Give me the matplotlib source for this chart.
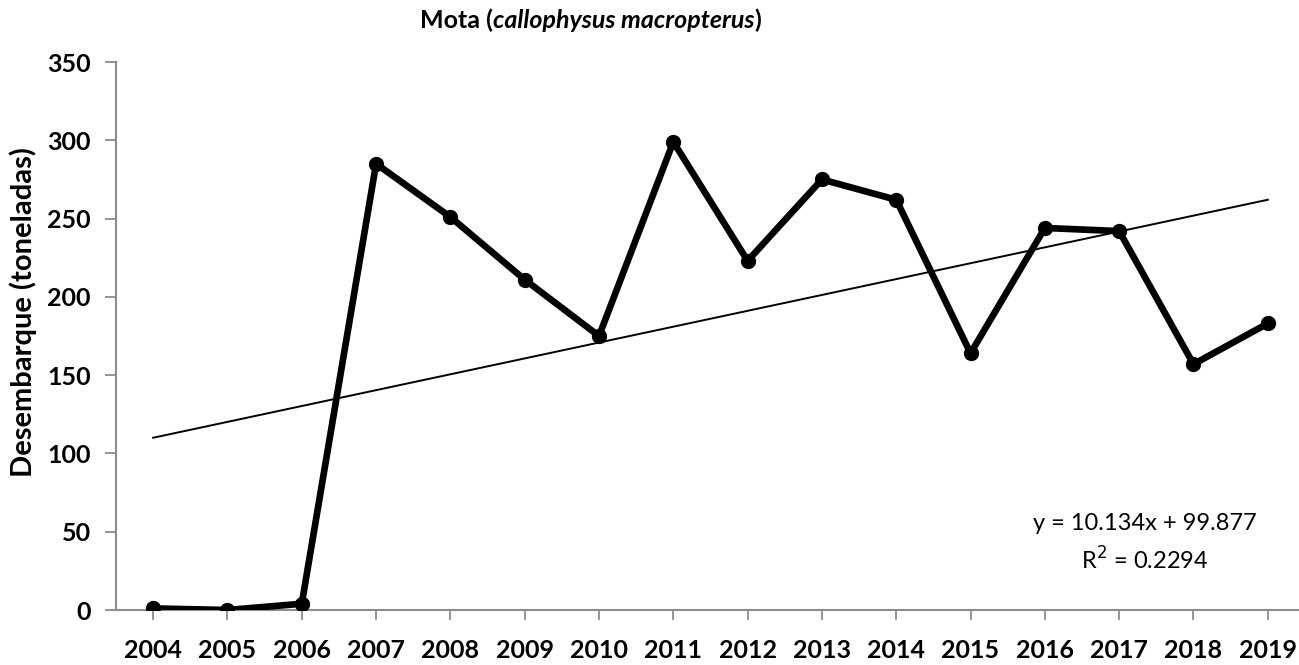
import matplotlib
matplotlib.use("Agg")
import matplotlib.pyplot as plt
import numpy as np

years = ["2004", "2005", "2006", "2007", "2008", "2009", "2010", "2011",
         "2012", "2013", "2014", "2015", "2016", "2017", "2018", "2019"]
desembarque = [1, 0, 4, 285, 251, 211, 175, 299, 223, 275, 262, 164, 244, 242, 157, 183]
trend_slope = 10.134
trend_intercept = 99.877
r2_text = "0.2294"

plt.rcParams['font.family'] = ['Lato', 'DejaVu Sans']

fig = plt.figure(figsize=(12.99, 6.65), dpi=100)
ax = fig.add_axes([116/1299, 1-610/665, 1-116/1299, (610-62)/665])

x = np.arange(len(years))
ax.plot(x, desembarque, color='black', lw=4.8, marker='o', markersize=10,
        solid_joinstyle='round', zorder=3)
xt = x + 1
ax.plot(x, trend_slope*xt + trend_intercept, color='black', lw=1.4, zorder=2)

ax.set_xlim(-0.5, 15.42)
ax.set_ylim(0, 350)
ax.set_yticks(range(0, 351, 50))
ax.set_xticks(x)
ax.set_xticklabels(years)
for s in ['top', 'right']:
    ax.spines[s].set_visible(False)
for s in ['left', 'bottom']:
    ax.spines[s].set_color('#8c8c8c')
    ax.spines[s].set_linewidth(1.5)
ax.tick_params(axis='y', length=8, width=1.3, color='#8c8c8c', labelsize=18, pad=10)
ax.tick_params(axis='x', length=7, width=1.3, color='#8c8c8c', labelsize=18, pad=14)
for lab in ax.get_xticklabels() + ax.get_yticklabels():
    lab.set_fontweight('bold')

fig.text(23/1299, 1-312/665, "Desembarque (toneladas)", rotation=90, fontsize=21,
         fontweight='bold', ha='center', va='center')

t1 = fig.text(420/1299, 1-20/665, "Mota (", fontsize=18, fontweight='bold', ha='left', va='center')
t2 = ax.annotate("callophysus macropterus", xy=(1, 0), xycoords=t1, fontsize=18,
                 fontweight='bold', fontstyle='italic', ha='left', va='bottom')
t3 = ax.annotate(")", xy=(1, 0), xycoords=t2, fontsize=18, fontweight='bold',
                 ha='left', va='bottom')

ax.text(1145/1299, 1-523/665, f"y = {trend_slope}x + {trend_intercept}", transform=fig.transFigure,
        fontsize=17, ha='center', va='center')
ax.text(1145/1299, 1-560/665, f"R$^2$ = {r2_text}", transform=fig.transFigure,
        fontsize=17, ha='center', va='center')

fig.savefig("out.png", dpi=100)
